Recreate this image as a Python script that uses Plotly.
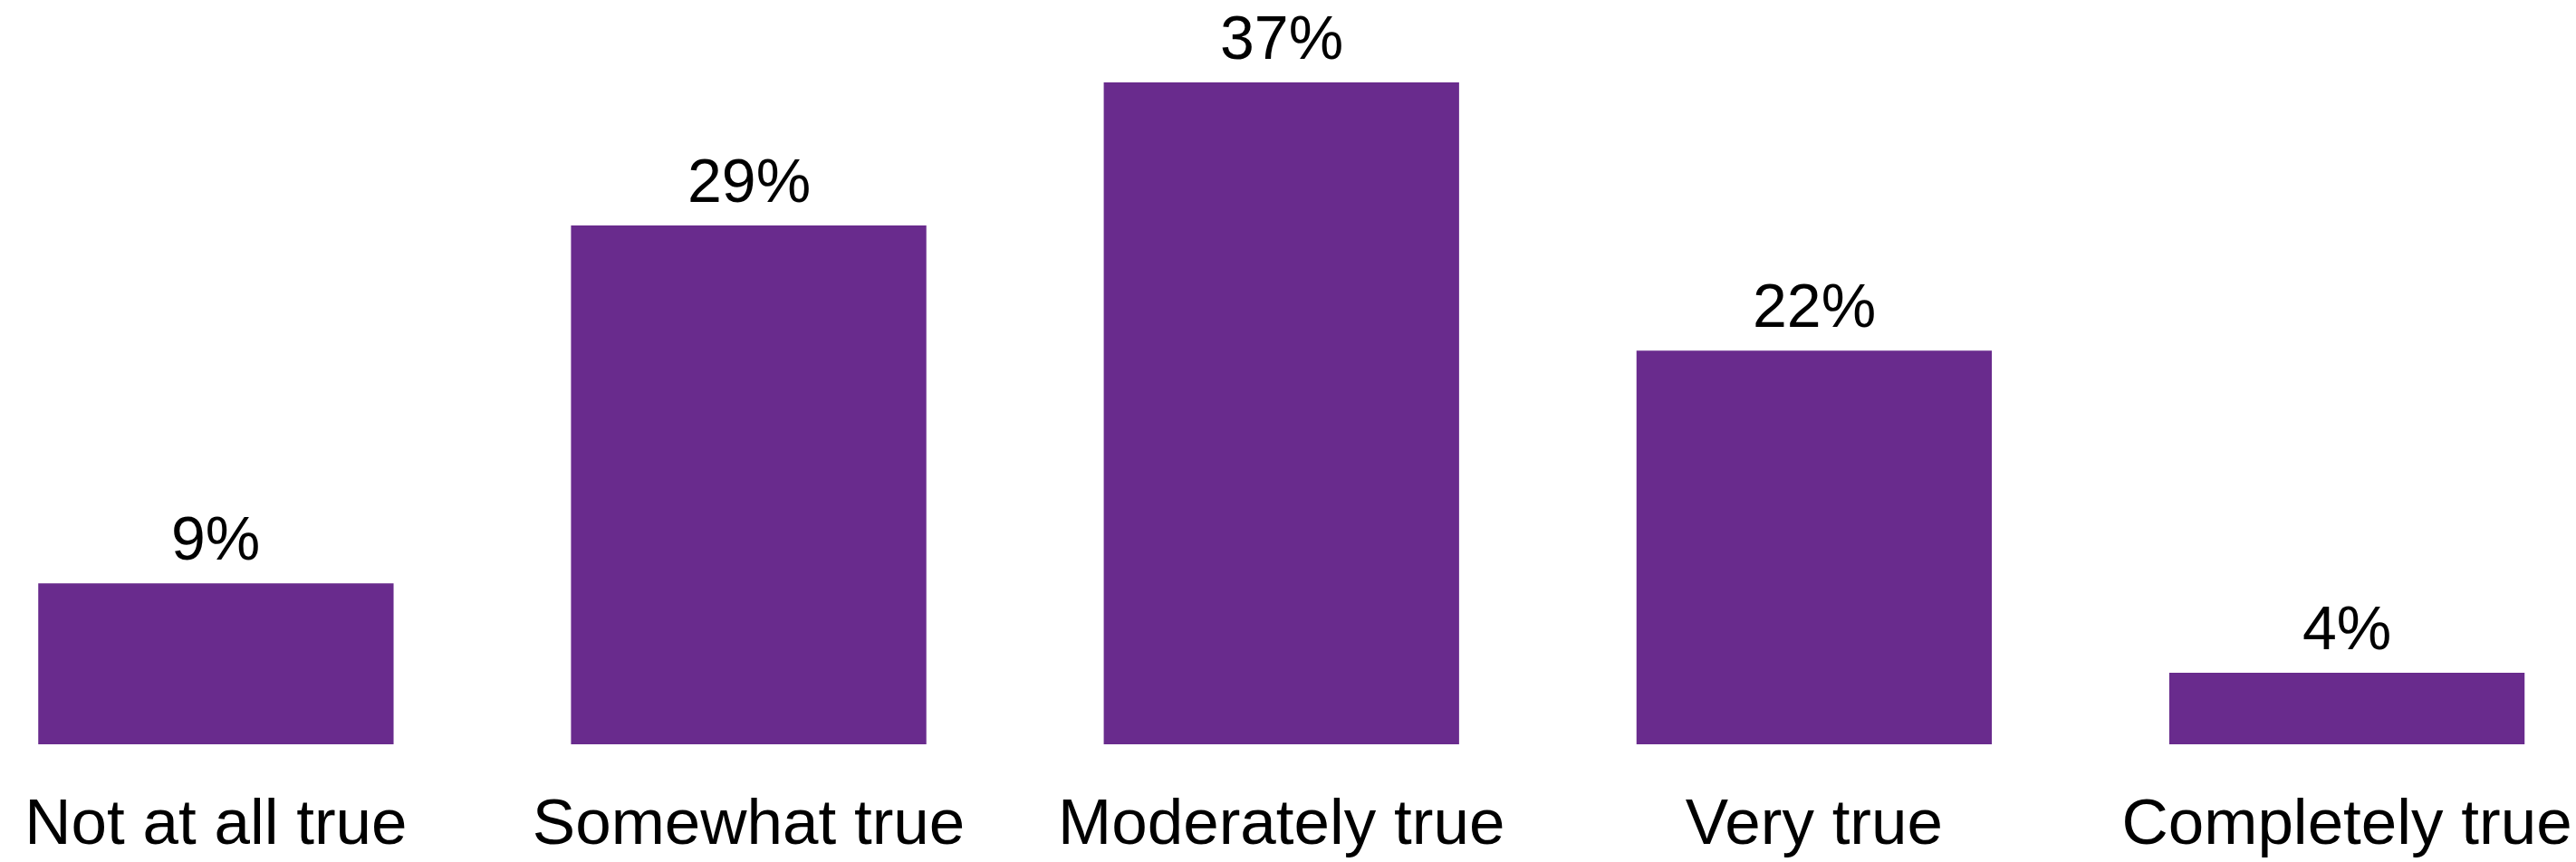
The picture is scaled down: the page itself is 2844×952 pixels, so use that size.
import plotly.graph_objects as go

# Survey response distribution
categories = ["Not at all true", "Somewhat true", "Moderately true", "Very true", "Completely true"]
shares = [9, 29, 37, 22, 4]

BAR_COLOR = "#692B8D"
FONT = "Liberation Sans, Arial, sans-serif"

fig = go.Figure(
    go.Bar(
        x=categories,
        y=shares,
        width=0.667,
        marker=dict(color=BAR_COLOR, line=dict(width=0)),
        hoverinfo="skip",
    )
)

# Percentage labels above each bar
for cat, val in zip(categories, shares):
    fig.add_annotation(
        x=cat,
        y=val,
        text=f"{val}%",
        showarrow=False,
        xanchor="center",
        yanchor="bottom",
        yshift=10,
        font=dict(family=FONT, size=68, color="#000000"),
    )

fig.update_layout(
    width=2844,
    height=952,
    margin=dict(l=0, r=0, t=0, b=130),
    paper_bgcolor="white",
    plot_bgcolor="white",
    showlegend=False,
    font=dict(family=FONT, color="#000000"),
    xaxis=dict(
        range=[-0.4053, 4.430],
        showgrid=False,
        zeroline=False,
        showline=False,
        ticks="",
        ticklabelstandoff=38,
        tickfont=dict(family=FONT, size=71, color="#000000"),
    ),
    yaxis=dict(
        range=[0, 41.6],
        showgrid=False,
        zeroline=False,
        showline=False,
        showticklabels=False,
        ticks="",
    ),
)

fig.write_html("out.html")
